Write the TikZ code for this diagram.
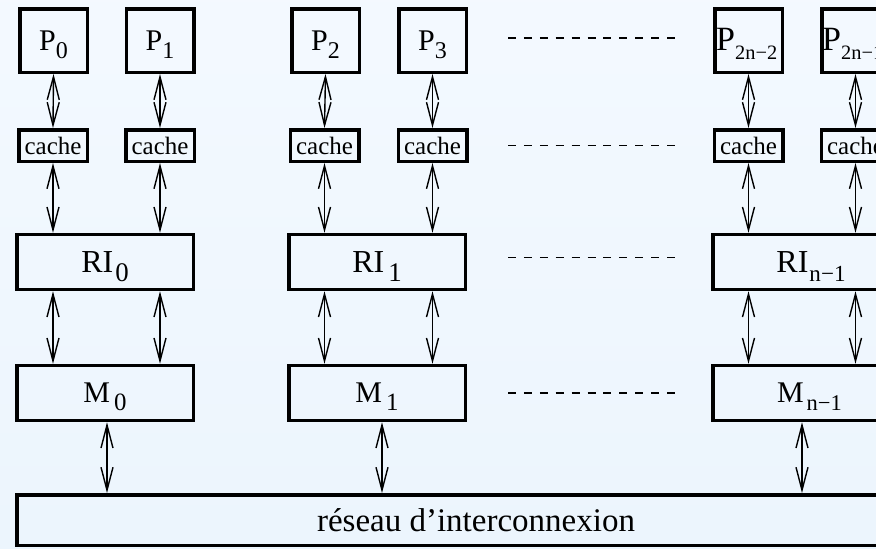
\documentclass[tikz,border=0pt]{standalone}
\usepackage{fontspec}
\setmainfont{Liberation Serif}
\usepackage{graphicx}
\usetikzlibrary{arrows.meta}

\definecolor{bgtop}{rgb}{0.955, 0.978, 1}
\definecolor{bgbot}{rgb}{0.925, 0.96, 0.992}

\tikzset{box/.style = {draw, line width=3.5pt, inner sep=0, text depth=0pt}}
\tikzset{pbox/.style = {box, minimum width=67.5pt, minimum height=63.5pt,
                        font=\fontsize{30}{30}\selectfont}}
\tikzset{cbox/.style = {box, minimum width=68.5pt, minimum height=31.5pt,
                        font=\fontsize{25}{25}\selectfont}}
\tikzset{wbox/.style = {box, minimum width=176.5pt, minimum height=55pt,
                        font=\fontsize{32}{32}\selectfont}}
\tikzset{mbox/.style = {wbox, font=\fontsize{30}{30}\selectfont}}
\tikzset{dbl/.style = {line width=1.4pt, >={Straight Barb[length=23pt, width=12pt]}, <->}}
\tikzset{dots/.style = {line width=1.5pt, dash pattern=on 8pt off 7.9pt}}

% lowered index, as in P_0 or RI_{n-1}
\newcommand{\idx}[2][0.8]{\raisebox{-0.27em}{\scalebox{#1}{#2}}}

\begin{document}
\begin{tikzpicture}[x=1pt, y=-1pt]
    \useasboundingbox (0, 0) rectangle (876, 549);
    \clip (0, 0) rectangle (876, 549);
    \shade [top color=bgtop, bottom color=bgbot] (0, 0) rectangle (876, 549);

    % processors
    \node [pbox] (P0) at (53.5, 40.5) {P\idx{0}};
    \node [pbox] (P1) at (160, 40.5) {P\idx{1}};
    \node [pbox] (P2) at (325.5, 40.5) {P\idx{2}};
    \node [pbox] (P3) at (432.5, 40.5) {P\idx{3}};
    \node [font=\fontsize{34}{34}\selectfont, anchor=base west, inner sep=0] (T4) at (716, 50) {P\idx[0.6]{2n−2}};
    \node [font=\fontsize{34}{34}\selectfont, anchor=base west, inner sep=0] (T5) at (822, 50) {P\idx[0.6]{2n−1}};
    \node [pbox] (P4) at (748.5, 40.5) {};
    \node [pbox] (P5) at (855.5, 40.5) {};

    % caches
    \node [cbox] (C0) at (53, 145.5) {cache};
    \node [cbox] (C1) at (160, 145.5) {cache};
    \node [cbox] (C2) at (324.5, 145.5) {cache};
    \node [cbox] (C3) at (432.5, 145.5) {cache};
    \node [cbox] (C4) at (748.5, 145.5) {cache};
    \node [cbox] (C5) at (855.5, 145.5) {cache};

    % interfaces and memories
    \node [wbox] (RI0) at (105, 262) {RI\kern2pt\idx[0.84]{0}};
    \node [wbox] (RI1) at (377, 262) {RI\kern4pt\idx[0.84]{1}};
    \node [wbox] (RI2) at (801, 262) {\kern20pt RI\kern1pt\idx[0.72]{n−1}};

    \node [mbox] (M0) at (105, 393) {M\kern4pt\idx[0.83]{0}};
    \node [mbox] (M1) at (377, 393) {M\kern4pt\idx[0.83]{1}};
    \node [mbox] (M2) at (801, 393) {\kern17pt M\kern3pt\idx[0.75]{n−1}};

    \node [box, minimum width=918.5pt, minimum height=50.5pt,
           font=\fontsize{33}{33}\selectfont] (net) at (476, 520) {réseau d'interconnexion};

    % processor <-> cache
    \draw [dbl] (P0.south) -- (C0.north);
    \draw [dbl] (P1.south) -- (C1.north);
    \draw [dbl] (P2.south) -- (C2.north);
    \draw [dbl] (P3.south) -- (C3.north);
    \draw [dbl] (P4.south) -- (C4.north);
    \draw [dbl] (P5.south) -- (C5.north);

    % cache <-> RI
    \draw [dbl] (C0.south) -- (C0.south |- RI0.north);
    \draw [dbl] (C1.south) -- (C1.south |- RI0.north);
    \draw [dbl] (C2.south) -- (C2.south |- RI1.north);
    \draw [dbl] (C3.south) -- (C3.south |- RI1.north);
    \draw [dbl] (C4.south) -- (C4.south |- RI2.north);
    \draw [dbl] (C5.south) -- (C5.south |- RI2.north);

    % RI <-> M
    \draw [dbl] (C0.south |- RI0.south) -- (C0.south |- M0.north);
    \draw [dbl] (C1.south |- RI0.south) -- (C1.south |- M0.north);
    \draw [dbl] (C2.south |- RI1.south) -- (C2.south |- M1.north);
    \draw [dbl] (C3.south |- RI1.south) -- (C3.south |- M1.north);
    \draw [dbl] (C4.south |- RI2.south) -- (C4.south |- M2.north);
    \draw [dbl] (C5.south |- RI2.south) -- (C5.south |- M2.north);

    % M <-> network
    \draw [dbl] ([xshift=2pt]M0.south) -- ([xshift=2pt]M0.south |- net.north);
    \draw [dbl] ([xshift=5pt]M1.south) -- ([xshift=5pt]M1.south |- net.north);
    \draw [dbl] ([xshift=1pt]M2.south) -- ([xshift=1pt]M2.south |- net.north);

    % the rest of the processors
    \draw [dots, shorten <=40pt, shorten >=38pt] ([yshift=2.5pt]P3.east) -- ([yshift=2.5pt]P4.west);
    \draw [dots, shorten <=39.5pt, shorten >=37.5pt] (C3.east) -- (C4.west);
    \draw [dots, shorten <=41pt, shorten >=36pt] ([yshift=4.5pt]RI1.east) -- ([yshift=4.5pt]RI2.west);
    \draw [dots, shorten <=41pt, shorten >=36pt] (M1.east) -- (M2.west);
\end{tikzpicture}
\end{document}
